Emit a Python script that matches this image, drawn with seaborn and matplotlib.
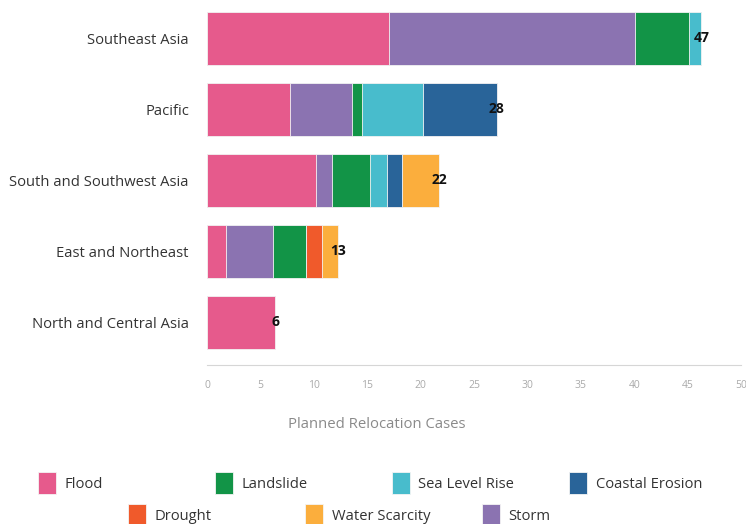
import matplotlib
matplotlib.use("Agg")
import matplotlib.pyplot as plt
import seaborn as sns
import pandas as pd
import numpy as np
from matplotlib.patches import Patch

regions = ["Southeast Asia", "Pacific", "South and Southwest Asia",
           "East and Northeast", "North and Central Asia"]
flood = [17.0, 7.75, 10.2, 1.75, 6.4]
storm = [23.1, 5.8, 1.5, 4.4, 0]
landslide = [5.05, 0.95, 3.6, 3.1, 0]
sea_level_rise = [1.15, 5.75, 1.55, 0, 0]
coastal_erosion = [0, 6.9, 1.45, 0, 0]
drought = [0, 0, 0, 1.55, 0]
water_scarcity = [0, 0, 3.45, 1.5, 0]
totals = [47, 28, 22, 13, 6]
x_ticks = list(range(0, 55, 5))

stack_order = ["Flood", "Storm", "Landslide", "Sea Level Rise",
               "Coastal Erosion", "Drought", "Water Scarcity"]
series = {
    "Flood": flood, "Storm": storm, "Landslide": landslide,
    "Sea Level Rise": sea_level_rise, "Coastal Erosion": coastal_erosion,
    "Drought": drought, "Water Scarcity": water_scarcity,
}
colors = {
    "Flood": "#E65A8C", "Storm": "#8B73B1", "Landslide": "#129447",
    "Sea Level Rise": "#48BCCC", "Coastal Erosion": "#296499",
    "Drought": "#F05A2B", "Water Scarcity": "#FBAE3D",
}
legend_rows = [["Flood", "Landslide", "Sea Level Rise", "Coastal Erosion"],
               ["Drought", "Water Scarcity", "Storm"]]

sns.set_theme(style="white")
plt.rcParams["font.family"] = ["Open Sans", "DejaVu Sans"]

W, H = 746, 524
fig = plt.figure(figsize=(W / 100, H / 100), dpi=100)
ax = fig.add_axes([207 / W, 1 - 365 / H, (741 - 207) / W, (365 - 3) / H])

df = pd.DataFrame(series)
df["region"] = regions
cum = df[stack_order].cumsum(axis=1)

for name in reversed(stack_order):
    sns.barplot(x=cum[name].values, y=regions, order=regions, orient="h",
                color=colors[name], width=0.75, ax=ax, saturation=1,
                edgecolor="#f4f4f4", linewidth=0.6)

for i, (region, tot) in enumerate(zip(regions, totals)):
    end = cum.loc[i, stack_order[-1]]
    ax.text(end, i, str(tot), ha="center", va="center", fontsize=10,
            fontweight="bold", color="#111111")

ax.set_xlim(0, 50)
ax.set_ylim(4.6, -0.5)
ax.set_xticks(x_ticks)
ax.set_xticklabels([str(t) for t in x_ticks], fontsize=7.5, color="#aaaaaa")
ax.tick_params(axis="x", direction="out", length=5, width=0.8,
               color="#cccccc", pad=6)
ax.tick_params(axis="y", length=0, labelsize=10.6, labelcolor="#333333", pad=13)
for s in ["top", "right", "left"]:
    ax.spines[s].set_visible(False)
ax.spines["bottom"].set_color("#d6d6d6")
ax.spines["bottom"].set_linewidth(0.8)
ax.set_xlabel("")
ax.set_ylabel("")

fig.text(377 / W, 1 - 425 / H, "Planned Relocation Cases", ha="center",
         va="center", fontsize=10.7, color="#8a8a8a")

row_y = [483, 515]
row_x0 = [38, 128]
step = 177
for r, row in enumerate(legend_rows):
    for j, name in enumerate(row):
        x = row_x0[r] + j * step
        fig.legend(handles=[Patch(facecolor=colors[name], edgecolor="#f4f4f4", linewidth=0.6)],
                   labels=[name], loc="center left",
                   bbox_to_anchor=(x / W, 1 - row_y[r] / H),
                   frameon=False, borderpad=0, borderaxespad=0,
                   handlelength=1.2, handleheight=2.0, handletextpad=0.6,
                   fontsize=10.6, labelcolor="#333333")

fig.savefig("out.png", dpi=100)
